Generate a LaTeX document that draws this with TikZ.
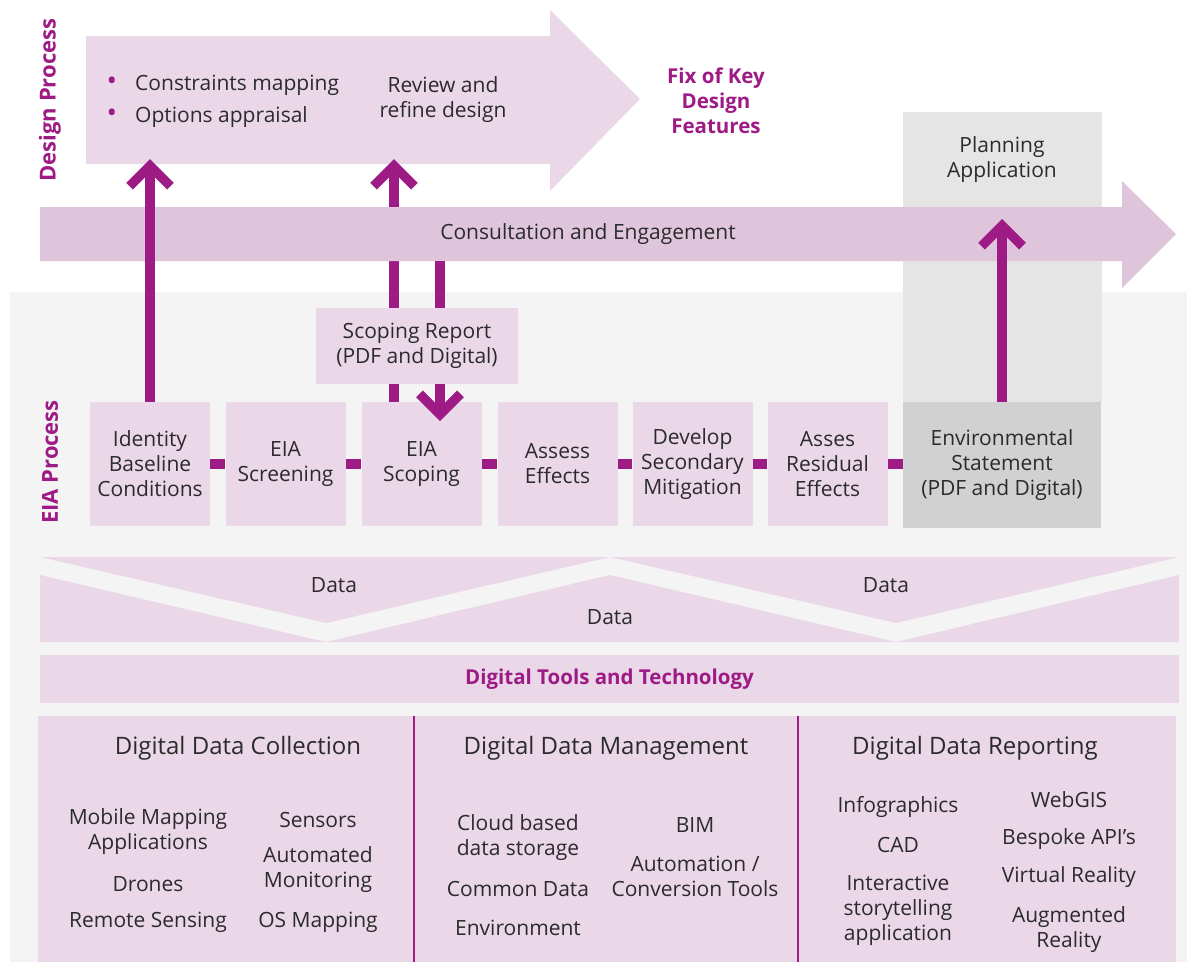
\documentclass[tikz,border=0pt]{standalone}
\usepackage{fontspec}
\setmainfont{Open Sans}
\usetikzlibrary{arrows.meta}

\definecolor{eiamag}{HTML}{9E1A84}
\definecolor{eiapink}{HTML}{EAD8E9}
\definecolor{eiaband}{HTML}{DFC5DC}
\definecolor{eiabg}{HTML}{F4F4F4}
\definecolor{eiagrey}{HTML}{E5E5E5}
\definecolor{eiadark}{HTML}{D1D1D1}
\definecolor{eiatext}{HTML}{2B2B2B}

\begin{document}
\begin{tikzpicture}[%
      x=1pt, y=-1pt,
      every node/.style={font=\fontsize{21}{25}\selectfont, text=eiatext, align=center, inner sep=0pt},
      stepbox/.style={fill=eiapink, minimum width=120pt, minimum height=124pt},
      flow/.style={draw=eiamag, line width=9.5pt, -{Straight Barb[sharp, length=20.5pt, width=41pt]}},
      link/.style={draw=eiamag, line width=10pt},
      magtitle/.style={font=\fontsize{20.5}{25}\selectfont\bfseries, text=eiamag},
      sidetitle/.style={font=\fontsize{22}{25}\selectfont\bfseries, text=eiamag, rotate=90},
      heading/.style={font=\fontsize{24}{27}\selectfont},
      ]
      \useasboundingbox (0,0) rectangle (1187,962);
      \fill [white] (0,0) rectangle (1187,962);
      \fill [eiabg] (10,292) rectangle (1187,962);
      \fill [eiagrey] (903,112) rectangle (1102,402);

      % design process
      \fill [eiapink] (86,36) -- (550,36) -- (550,10) -- (640,99) -- (550,191) -- (550,164) -- (86,164) -- cycle;
      \coordinate (dtop) at (0,159);
      \node [sidetitle] (dlabel) at (50,100) {Design Process};
      \node [text=eiamag, font=\fontsize{28}{25}\selectfont] (b1) at (112,84) {\textbullet};
      \node [text=eiamag, font=\fontsize{28}{25}\selectfont] (b2) at (112,116) {\textbullet};
      \node [anchor=west] (cmap) at (135,85) {Constraints mapping};
      \node [anchor=west] (oapp) at (135,117) {Options appraisal};
      \node (review) at (443,100) {Review and\\refine design};
      \node [magtitle] (fix) at (716,101) {Fix of Key\\Design\\Features};
      \node (plan) at (1002,160) {Planning\\Application};

      % eia process
      \node [sidetitle] (elabel) at (50,462) {EIA Process};
      \node [stepbox] (ident) at (150,464) {Identity\\Baseline\\Conditions};
      \node [stepbox] (screen) at (285.5,464) {EIA\\Screening};
      \node [stepbox] (scope) at (421.5,464) {EIA\\Scoping};
      \node [stepbox] (assess) at (557.5,464) {Assess\\Effects};
      \node [stepbox] (develop) at (692.5,464) {Develop\\Secondary\\Mitigation};
      \node [stepbox] (resid) at (827.5,464) {Asses\\Residual\\Effects};
      \node [fill=eiadark, minimum width=198pt, minimum height=126pt] (env) at (1002,465) {Environmental\\Statement\\(PDF and Digital)};

      \draw [link] (ident.east) -- (screen.west);
      \draw [link] (screen.east) -- (scope.west);
      \draw [link] (scope.east) -- (assess.west);
      \draw [link] (assess.east) -- (develop.west);
      \draw [link] (develop.east) -- (resid.west);
      \draw [link] (resid.east) -- (resid.east -| env.west);

      \draw [flow] ([xshift=-27.5pt]scope.north) -- ([xshift=-27.5pt]scope.north |- dtop);

      % consultation
      \fill [eiaband] (40,207) -- (1122,207) -- (1122,181) -- (1176,234) -- (1122,288) -- (1122,261) -- (40,261) -- cycle;
      \coordinate (cbot) at (440,261);
      \coordinate (ptop) at (0,219);
      \node (consult) at (588,234) {Consultation and Engagement};

      \draw [flow] (ident.north) -- (ident.north |- dtop);
      \draw [flow] (env.north) -- (env.north |- ptop);
      \draw [flow] (cbot) -- (cbot |- 0,421);

      \node [fill=eiapink, minimum width=202pt, minimum height=76pt] (report) at (417,346) {Scoping Report\\(PDF and Digital)};

      % data
      \fill [eiapink] (40,557) -- (610,557) -- (326,623) -- cycle;
      \fill [eiapink] (610,557) -- (1179,557) -- (896,623) -- cycle;
      \fill [eiapink] (40,575) -- (326,642) -- (610,575) -- (896,642) -- (1179,575) -- (1179,642) -- (40,642) -- cycle;
      \node (data1) at (334,585) {Data};
      \node (data2) at (886,585) {Data};
      \node (data3) at (610,617) {Data};

      \node [fill=eiapink, minimum width=1139pt, minimum height=48pt, magtitle] (tools) at (609.5,679) {Digital Tools and Technology};

      % digital tools
      \fill [eiapink] (38,716) rectangle (1176,962);
      \draw [eiamag, line width=2pt] (414,716) -- (414,962);
      \draw [eiamag, line width=2pt] (798,716) -- (798,962);

      \node [heading] (coll) at (238,748) {Digital Data Collection};
      \node [heading] (mgmt) at (606,748) {Digital Data Management};
      \node [heading] (rept) at (975,748) {Digital Data Reporting};

      \node (mob) at (148,832) {Mobile Mapping\\Applications};
      \node (dro) at (148,884) {Drones};
      \node (rem) at (148,922) {Remote Sensing};
      \node (sen) at (318,820) {Sensors};
      \node (aut) at (318,870) {Automated\\Monitoring};
      \node (osm) at (318,922) {OS Mapping};

      \node (cld) at (518,838) {Cloud based\\data storage};
      \node (cde) at (518,889) {Common Data};
      \node (cdf) at (518,928) {Environment};
      \node (bim) at (695,825) {BIM};
      \node (acv) at (695,876) {Automation /\\Conversion Tools};

      \node (inf) at (898,807) {Infographics};
      \node (cad) at (898,845) {CAD};
      \node (ist) at (898,910) {Interactive\\storytelling\\application};
      \node (web) at (1069,800) {WebGIS};
      \node (api) at (1069,839) {Bespoke API’s};
      \node (vrr) at (1069,877) {Virtual Reality};
      \node (arr) at (1069,930) {Augmented\\Reality};
      \end{tikzpicture}
\end{document}
